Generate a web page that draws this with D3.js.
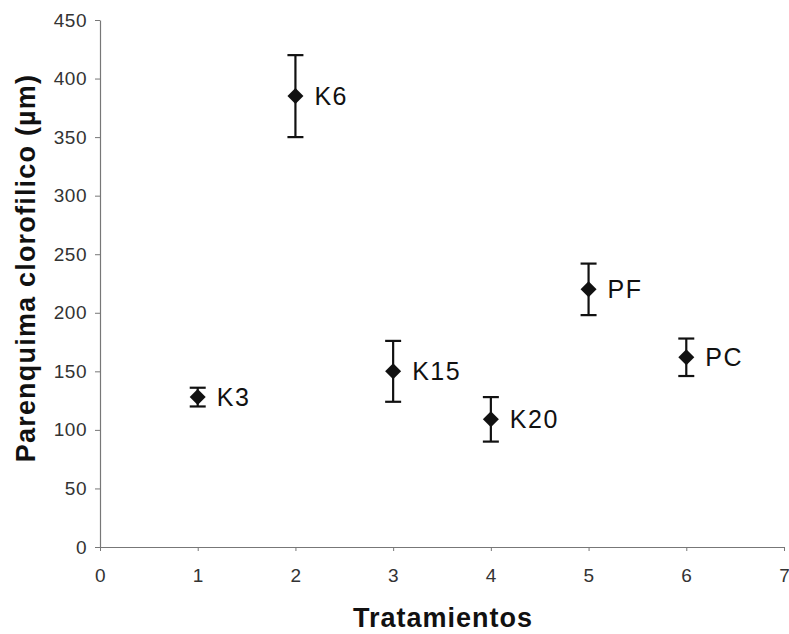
<!DOCTYPE html>
<html>
<head>
<meta charset="utf-8">
<script src="https://cdn.jsdelivr.net/npm/d3@7"></script>
<style>
  body { margin: 0; background: #fff; }
  svg text { font-family: "Liberation Sans", Arial, sans-serif; }
</style>
</head>
<body>
<div id="chart"></div>
<script>
/* Treatments, x positions, means and error half-widths */
const labels = ["K3", "K6", "K15", "K20", "PF", "PC"];
const xValues = [1, 2, 3, 4, 5, 6];
const means = [128, 385, 150, 109, 220, 162];
const errors = [8, 35, 26, 19, 22, 16];

const xTicks = [0, 1, 2, 3, 4, 5, 6, 7];
const yTicks = [0, 50, 100, 150, 200, 250, 300, 350, 400, 450];

const data = labels.map((l, i) => ({ label: l, x: xValues[i], mean: means[i], err: errors[i] }));

const width = 789, height = 634;
const margins = { top: 20, right: 5, bottom: 87, left: 100 };

const svg = d3.select("#chart")
  .append("svg")
  .attr("width", width)
  .attr("height", height);

const xScale = d3.scaleLinear()
  .domain([0, 7])
  .range([margins.left, width - margins.right]);

const yScale = d3.scaleLinear()
  .domain([0, 450])
  .range([height - margins.bottom, margins.top]);

/* X axis */
const xAxis = svg.append("g")
  .attr("transform", `translate(0,${yScale(0)})`)
  .call(d3.axisBottom(xScale).tickValues(xTicks).tickFormat(d3.format("d"))
    .tickSize(4).tickPadding(18).tickSizeOuter(0));

/* Y axis */
const yAxis = svg.append("g")
  .attr("transform", `translate(${xScale(0)},0)`)
  .call(d3.axisLeft(yScale).tickValues(yTicks).tickFormat(d3.format("d"))
    .tickSize(5).tickPadding(8).tickSizeOuter(0));

[xAxis, yAxis].forEach(ax => {
  ax.select(".domain").attr("stroke", "#777").attr("stroke-width", 1.2);
  ax.selectAll(".tick line").attr("stroke", "#777");
  ax.selectAll(".tick text").attr("fill", "#333").attr("font-size", "19px").attr("letter-spacing", "0.5px");
});

/* the last x label sits at the window edge, pull it in a touch */
xAxis.selectAll(".tick text").filter(d => d === 7).attr("text-anchor", "end").attr("dx", "0.3em");

/* Error bars */
const capW = 8;
const bars = svg.append("g")
  .selectAll("g")
  .data(data)
  .join("g")
  .attr("stroke", "#111")
  .attr("stroke-width", 2.2);

bars.append("line")
  .attr("x1", d => xScale(d.x)).attr("x2", d => xScale(d.x))
  .attr("y1", d => yScale(d.mean + d.err)).attr("y2", d => yScale(d.mean - d.err));
bars.append("line")
  .attr("x1", d => xScale(d.x) - capW).attr("x2", d => xScale(d.x) + capW)
  .attr("y1", d => yScale(d.mean + d.err)).attr("y2", d => yScale(d.mean + d.err));
bars.append("line")
  .attr("x1", d => xScale(d.x) - capW).attr("x2", d => xScale(d.x) + capW)
  .attr("y1", d => yScale(d.mean - d.err)).attr("y2", d => yScale(d.mean - d.err));

/* Diamond markers */
svg.append("g")
  .selectAll("path")
  .data(data)
  .join("path")
  .attr("transform", d => `translate(${xScale(d.x)},${yScale(d.mean)})`)
  .attr("d", "M0,-8L8,0L0,8L-8,0Z")
  .attr("fill", "#111");

/* Point labels */
svg.append("g")
  .selectAll("text")
  .data(data)
  .join("text")
  .attr("x", d => xScale(d.x) + 19)
  .attr("y", d => yScale(d.mean))
  .attr("dy", "0.36em")
  .attr("font-size", "25px")
  .attr("letter-spacing", "1.5px")
  .attr("fill", "#111")
  .text(d => d.label);

/* Axis titles */
svg.append("text")
  .attr("x", 443)
  .attr("y", 627)
  .attr("text-anchor", "middle")
  .attr("font-size", "27px")
  .attr("font-weight", "bold")
  .attr("letter-spacing", "1px")
  .attr("fill", "#111")
  .text("Tratamientos");

svg.append("text")
  .attr("transform", "rotate(-90)")
  .attr("x", -268)
  .attr("y", 35)
  .attr("text-anchor", "middle")
  .attr("font-size", "27px")
  .attr("font-weight", "bold")
  .attr("letter-spacing", "1.2px")
  .attr("fill", "#111")
  .text("Parenquima clorofilico (µm)");
</script>
</body>
</html>
